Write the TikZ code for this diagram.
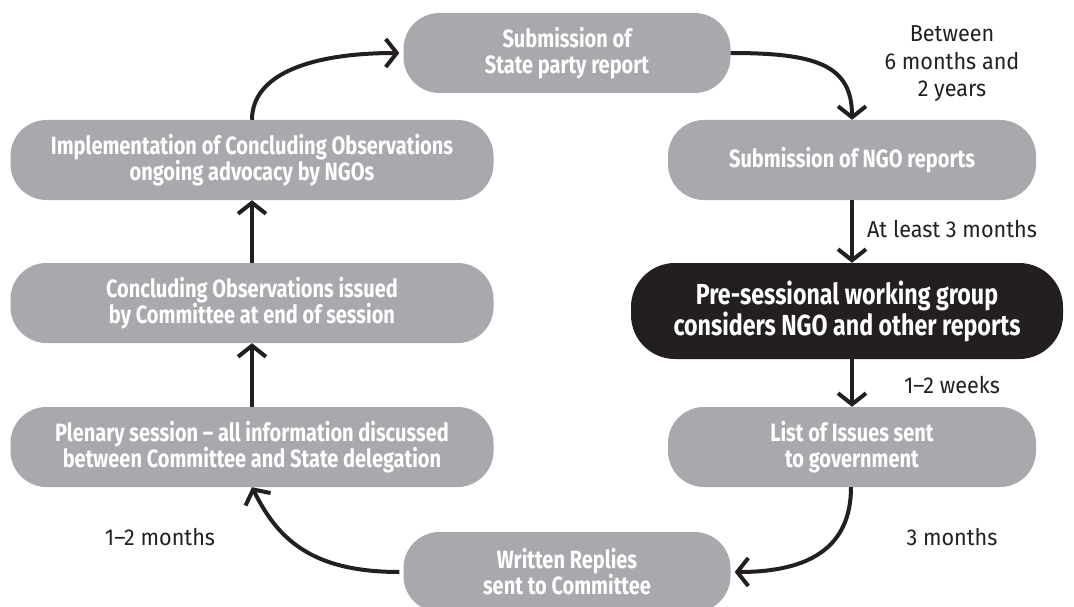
\documentclass[tikz,border=0pt]{standalone}
\usepackage{fontspec}
\usetikzlibrary{arrows.meta}
\usetikzlibrary{calc}
\newfontfamily\boxfont{Fira Sans}[FakeStretch=0.8, Ligatures=TeX]
\newfontfamily\notefont{Fira Sans}[FakeStretch=0.94, Ligatures=TeX]
\definecolor{stepgrey}{HTML}{A7A9AC}
\definecolor{stepblack}{HTML}{231F20}
\tikzset{
	stagebox/.style={rectangle, rounded corners=36pt, fill=stepgrey, draw=none, text=white,
		minimum height=80pt, inner sep=0pt, align=center,
		font=\boxfont\bfseries\fontsize{25}{26}\selectfont},
	keybox/.style={stagebox, fill=stepblack, rounded corners=44pt, minimum height=96pt,
		font=\boxfont\bfseries\fontsize{29}{31}\selectfont},
	timenote/.style={draw=none, fill=none, align=center, text=stepblack,
		font=\notefont\fontsize{23}{27.5}\selectfont},
	flow/.style={line width=4pt, draw=stepblack, -{Straight Barb[length=11pt,width=28pt]}}
}
\begin{document}
\begin{tikzpicture}[x=1pt, y=-1pt]
	\useasboundingbox (0,0) rectangle (1074,607);
	\coordinate (s) at (567,53);
	\node[stagebox, minimum width=327pt] (report) at (s) {Submission of\\State party report};
	\coordinate (s) at (852,160);
	\node[stagebox, minimum width=368pt] (ngo) at (s) {Submission of NGO reports};
	\coordinate (s) at (847,311);
	\node[keybox, minimum width=432pt] (presession) at (s) {Pre-sessional working group\\considers NGO and other reports};
	\coordinate (s) at (852,447);
	\node[stagebox, minimum width=368pt] (issues) at (s) {List of Issues sent\\to government};
	\coordinate (s) at (567,572);
	\node[stagebox, minimum width=327pt] (replies) at (s) {Written Replies\\sent to Committee};
	\coordinate (s) at (252,447);
	\node[stagebox, minimum width=483pt] (plenary) at (s) {Plenary session -- all information discussed\\between Committee and State delegation};
	\coordinate (s) at (252,303);
	\node[stagebox, minimum width=483pt] (observations) at (s) {Concluding Observations issued\\by Committee at end of session};
	\coordinate (s) at (252,160);
	\node[stagebox, minimum width=483pt] (implement) at (s) {Implementation of Concluding Observations\\ongoing advocacy by NGOs};
		\node[timenote] (t1) at (952,64) {Between\\6 months and\\2 years};
		\node[timenote] (t2) at (952,229) {At least 3 months};
		\node[timenote] (t3) at (952,385) {1--2 weeks};
		\node[timenote] (t4) at (952,537) {3 months};
		\node[timenote] (t5) at (160,537) {1--2 months};
	\draw[flow] (report.east) .. controls +(85,0) and +(0,-55) .. (ngo.north);
	\draw[flow] (ngo.south) -- (ngo.south |- presession.north);
	\draw[flow] (ngo.south |- presession.south) -- (issues.north);
	\draw[flow] ([xshift=-1pt]issues.south) .. controls +(0,60) and +(75,0) .. ([xshift=4pt]replies.east);
	\draw[flow] ([xshift=-4pt]replies.west) .. controls +(-90,0) and +(25,50) .. (plenary.south);
	\draw[flow] (plenary.north) -- (observations.south);
	\draw[flow] (observations.north) -- (implement.south);
	\draw[flow] (implement.north) .. controls +(0,-45) and +(-90,0) .. ([xshift=-4pt]report.west);
\end{tikzpicture}
\end{document}
